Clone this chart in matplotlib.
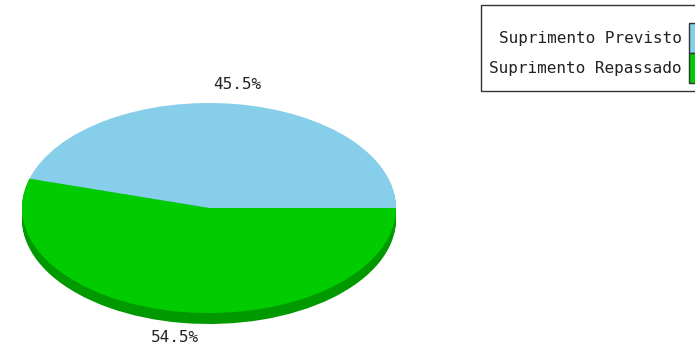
import numpy as np
import matplotlib.pyplot as plt

labels = ['Suprimento Previsto', 'Suprimento Repassado']
values = [45.5, 54.5]
colors = ['#87ceeb', '#00cc00']
dark_colors = ['#6aa3bb', '#009900']

# pie geometry in pixels
W, H = 695, 350
cx, cy = 209, 208      # centre, from top
rx, ry = 187, 105
depth = 11

fig = plt.figure(figsize=(W / 100, H / 100), dpi=100)
ax = fig.add_axes([0, 0, 1, 1])

# side of the pie: stacked dark copies
for k in range(depth, 0, -1):
    ax.pie(values, colors=dark_colors, startangle=0, counterclock=True,
           center=(0, -k / ry), radius=1, wedgeprops=dict(linewidth=0))
wedges, _ = ax.pie(values, colors=colors, startangle=0, counterclock=True,
                   center=(0, 0), radius=1, wedgeprops=dict(linewidth=0))

ax.set_aspect('auto')
ax.set_xlim(-cx / rx, (W - cx) / rx)
ax.set_ylim(-(H - cy) / ry, cy / ry)
ax.axis('off')

# percentage labels
fracs = np.array(values) / sum(values)
start = 0.0
for f in fracs:
    mid = np.deg2rad((start + f / 2) * 360)
    x = 1.18 * np.cos(mid) - 0.015
    y = 1.19 * np.sin(mid)
    if y < 0:
        y -= 0.5 * depth / ry
    ax.text(x, y, '%.1f%%' % (f * 100), ha='center', va='center',
            family='DejaVu Sans Mono', fontsize=11.5, color='#222222')
    start += f

# blank title only pushes the rows down a little
leg = fig.legend(wedges, labels, loc='upper left',
                 bbox_to_anchor=(481 / W, 1 - 5 / H),
                 title=' ', title_fontsize=7.5,
                 markerfirst=False, frameon=True, fancybox=False,
                 prop=dict(family='DejaVu Sans Mono', size=11.5),
                 handlelength=1.2, handleheight=2.5, labelspacing=0.0,
                 handletextpad=0.45, borderpad=0.5, borderaxespad=0)
leg.get_frame().set_edgecolor('black')
leg.get_frame().set_linewidth(1)
for t in leg.get_texts():
    t.set_color('#222222')
for h in leg.legend_handles:
    h.set_edgecolor('#333333')
    h.set_linewidth(1)

fig.savefig('out.png', dpi=100)
